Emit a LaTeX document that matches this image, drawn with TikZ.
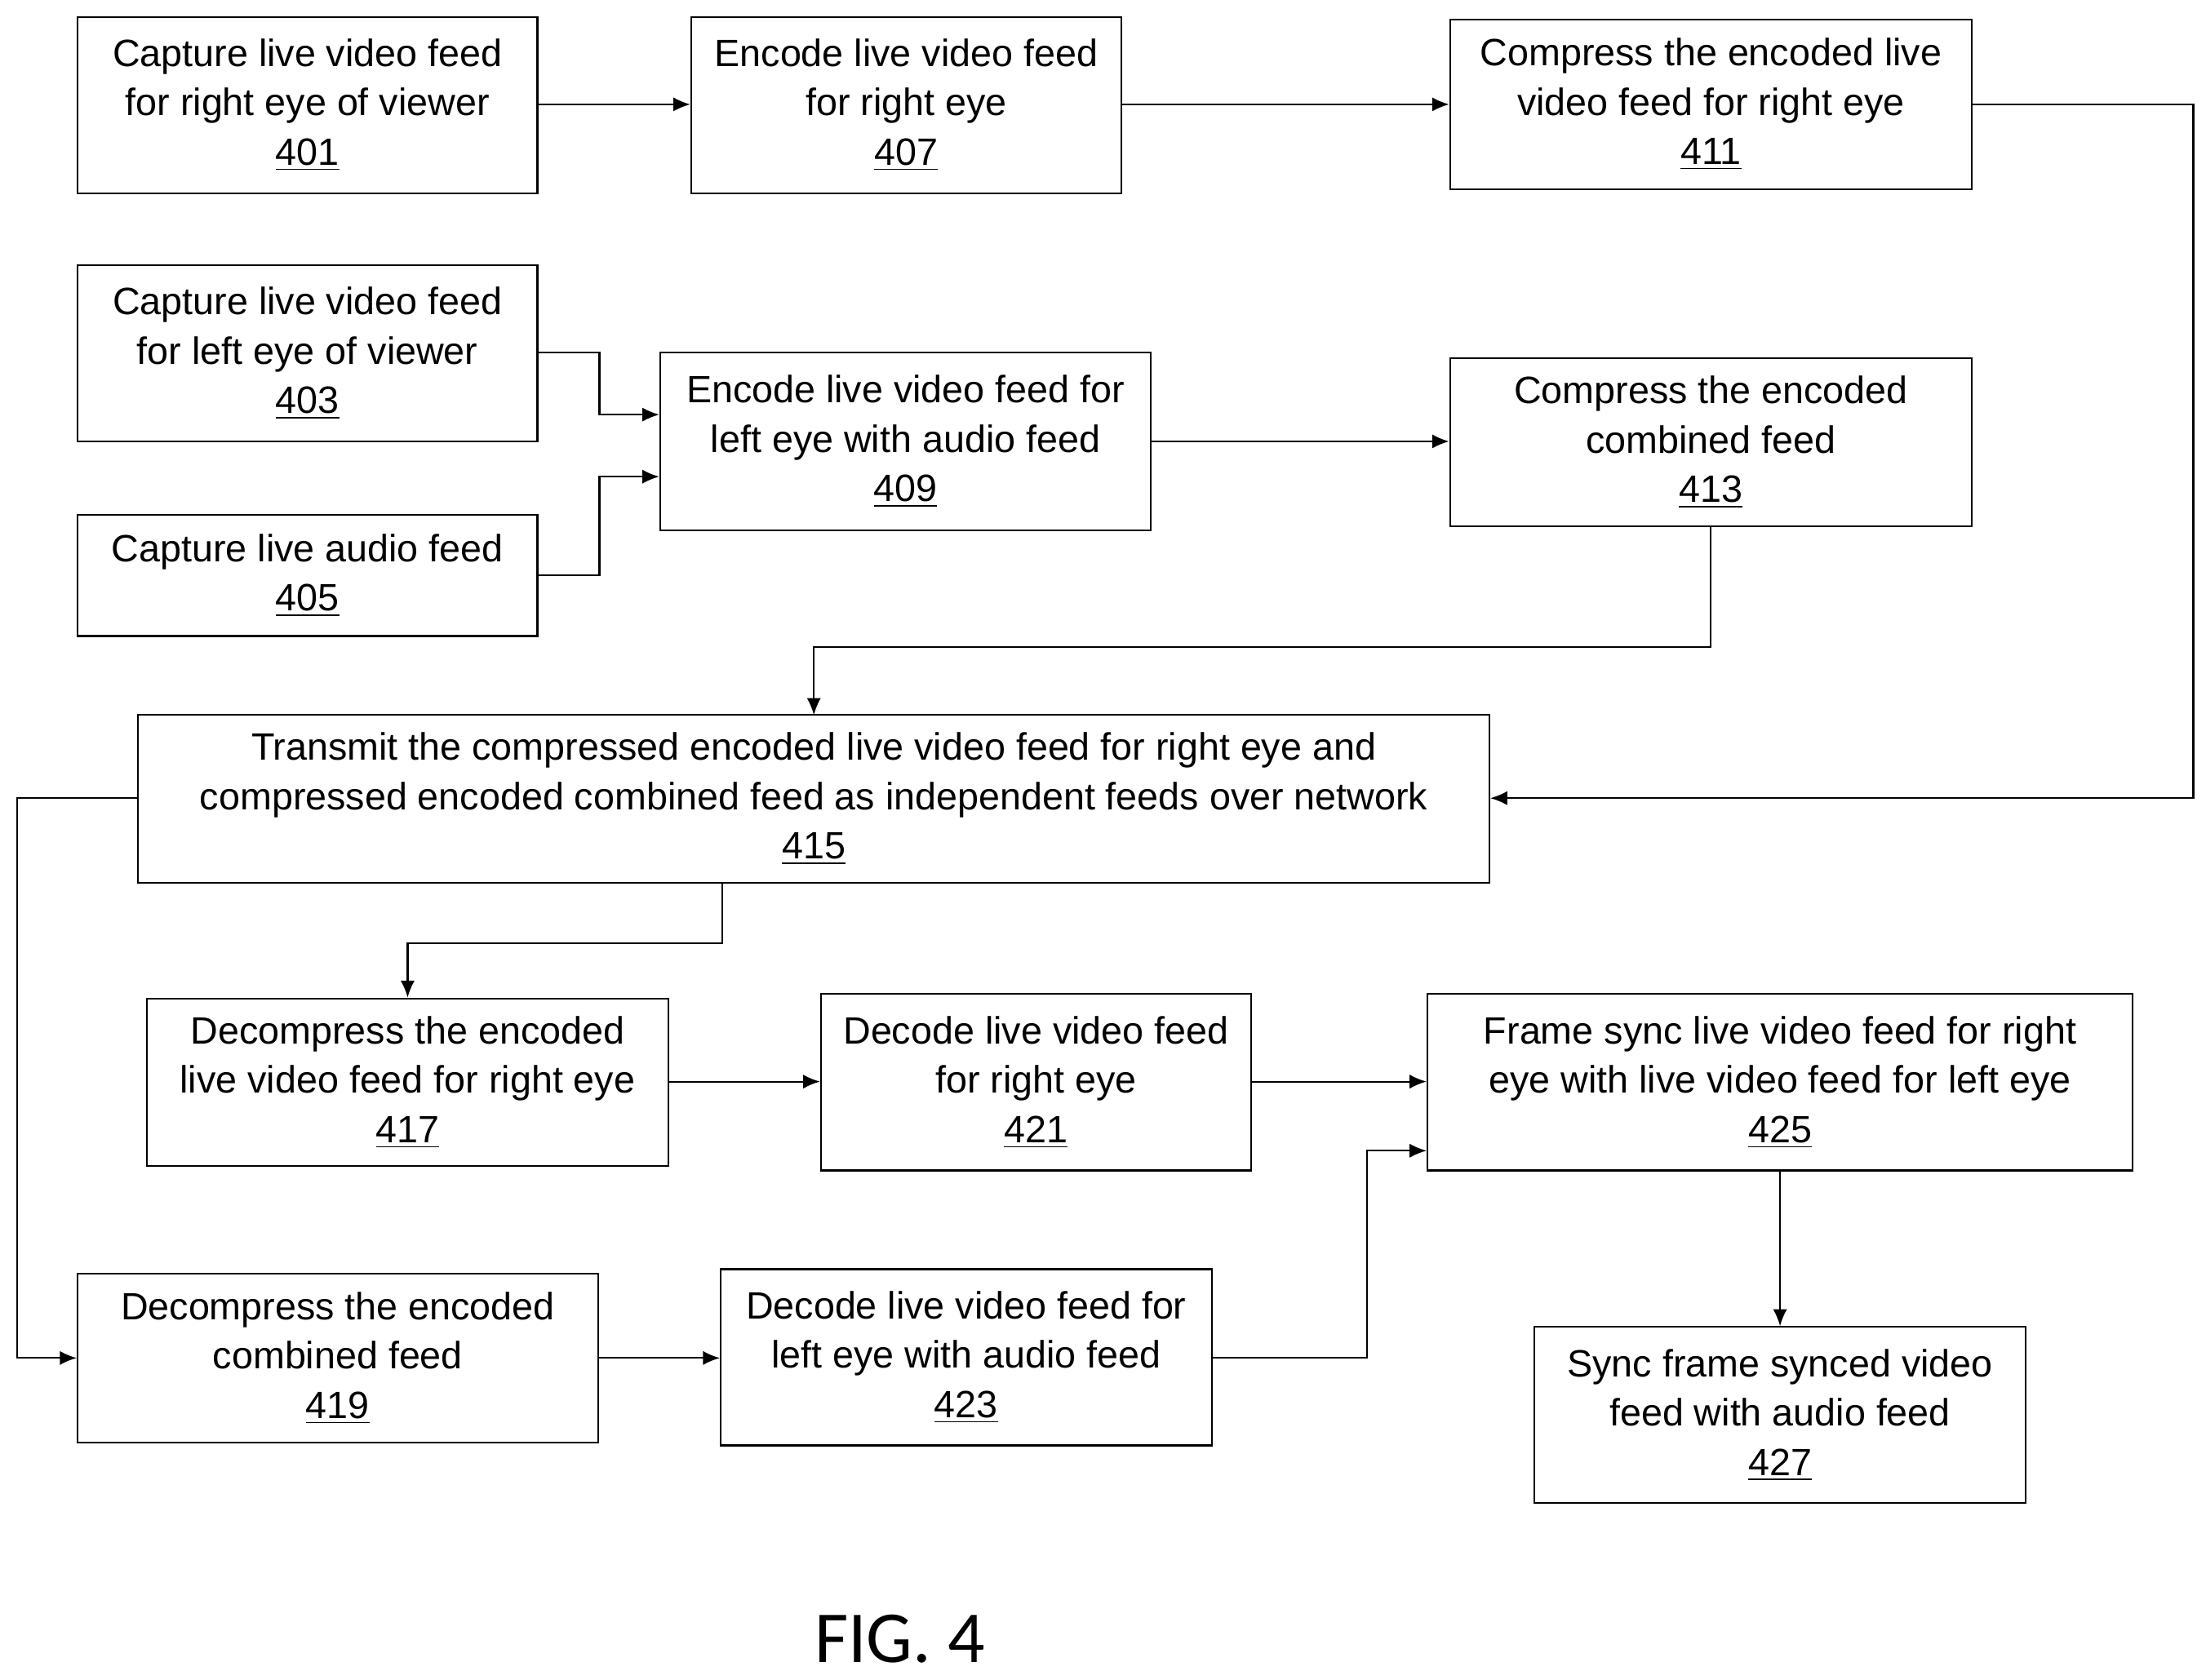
\documentclass[tikz,border=0pt]{standalone}
\usepackage{fontspec}
\setmainfont{Liberation Sans}
\newfontfamily\figfont{Carlito}
\usetikzlibrary{arrows.meta}
\begin{document}
\begin{tikzpicture}[x=0.5pt,y=-0.5pt,
  box/.style={draw,line width=0.6pt,inner sep=0pt,align=center,font=\fontsize{13.5}{17.5}\selectfont},
  arr/.style={draw,line width=0.6pt,-{Latex[length=6pt,width=5pt]}}]
\useasboundingbox (0,0) rectangle (1564,1191);
\newcommand{\bx}[6]{\node[box,minimum width={(#4-#2)*0.5pt},minimum height={(#5-#3)*0.5pt}] (#1) at ({(#2+#4)/2},{(#3+#5)/2}) {#6};}
\bx{b401}{55}{12}{381}{137}{Capture live video feed\\for right eye of viewer\\\underline{401}}
\bx{b407}{490}{12}{795}{137}{Encode live video feed\\for right eye\\\underline{407}}
\bx{b411}{1028}{14}{1398}{134}{Compress the encoded live\\video feed for right eye\\\underline{411}}
\bx{b403}{55}{188}{381}{313}{Capture live video feed\\for left eye of viewer\\\underline{403}}
\bx{b409}{468}{250}{816}{376}{Encode live video feed for\\left eye with audio feed\\\underline{409}}
\bx{b413}{1028}{254}{1398}{373}{Compress the encoded\\combined feed\\\underline{413}}
\bx{b405}{55}{365}{381}{451}{Capture live audio feed\\\underline{405}}
\bx{b415}{98}{507}{1056}{626}{Transmit the compressed encoded live video feed for right eye and\\compressed encoded combined feed as independent feeds over network\\\underline{415}}
\bx{b417}{104}{708}{474}{827}{Decompress the encoded\\live video feed for right eye\\\underline{417}}
\bx{b421}{582}{705}{887}{830}{Decode live video feed\\for right eye\\\underline{421}}
\bx{b425}{1012}{705}{1512}{830}{Frame sync live video feed for right\\eye with live video feed for left eye\\\underline{425}}
\bx{b419}{55}{903}{424}{1023}{Decompress the encoded\\combined feed\\\underline{419}}
\bx{b423}{511}{900}{859}{1025}{Decode live video feed for\\left eye with audio feed\\\underline{423}}
\bx{b427}{1088}{941}{1436}{1066}{Sync frame synced video\\feed with audio feed\\\underline{427}}
\node[font=\figfont\fontsize{26}{30}\selectfont] (fig) at (638,1162) {FIG. 4};
\draw[arr] (b401.east|-0,74) -- (b407.west|-0,74);
\draw[arr] (b407.east|-0,74) -- (b411.west|-0,74);
\draw[arr] (b411.east|-0,74) -- (1555,74) -- (1555,566) -- (b415.east|-0,566);
\draw[arr] (b403.east|-0,250) -- (425,250) -- (425,294) -- (b409.west|-0,294);
\draw[arr] (b405.east|-0,408) -- (425,408) -- (425,338) -- (b409.west|-0,338);
\draw[arr] (b409.east|-0,313) -- (b413.west|-0,313);
\draw[arr] (b413.south) -- (1213,459) -- (577,459) -- (577,507);
\draw[arr] (b415.west|-0,566) -- (12,566) -- (12,963) -- (b419.west|-0,963);
\draw[arr] (512,626) -- (512,669) -- (289,669) -- (b417.north);
\draw[arr] (b417.east|-0,767) -- (b421.west|-0,767);
\draw[arr] (b421.east|-0,767) -- (b425.west|-0,767);
\draw[arr] (b419.east|-0,963) -- (b423.west|-0,963);
\draw[arr] (b423.east|-0,963) -- (969,963) -- (969,816) -- (b425.west|-0,816);
\draw[arr] (b425.south) -- (b427.north);
\end{tikzpicture}
\end{document}
